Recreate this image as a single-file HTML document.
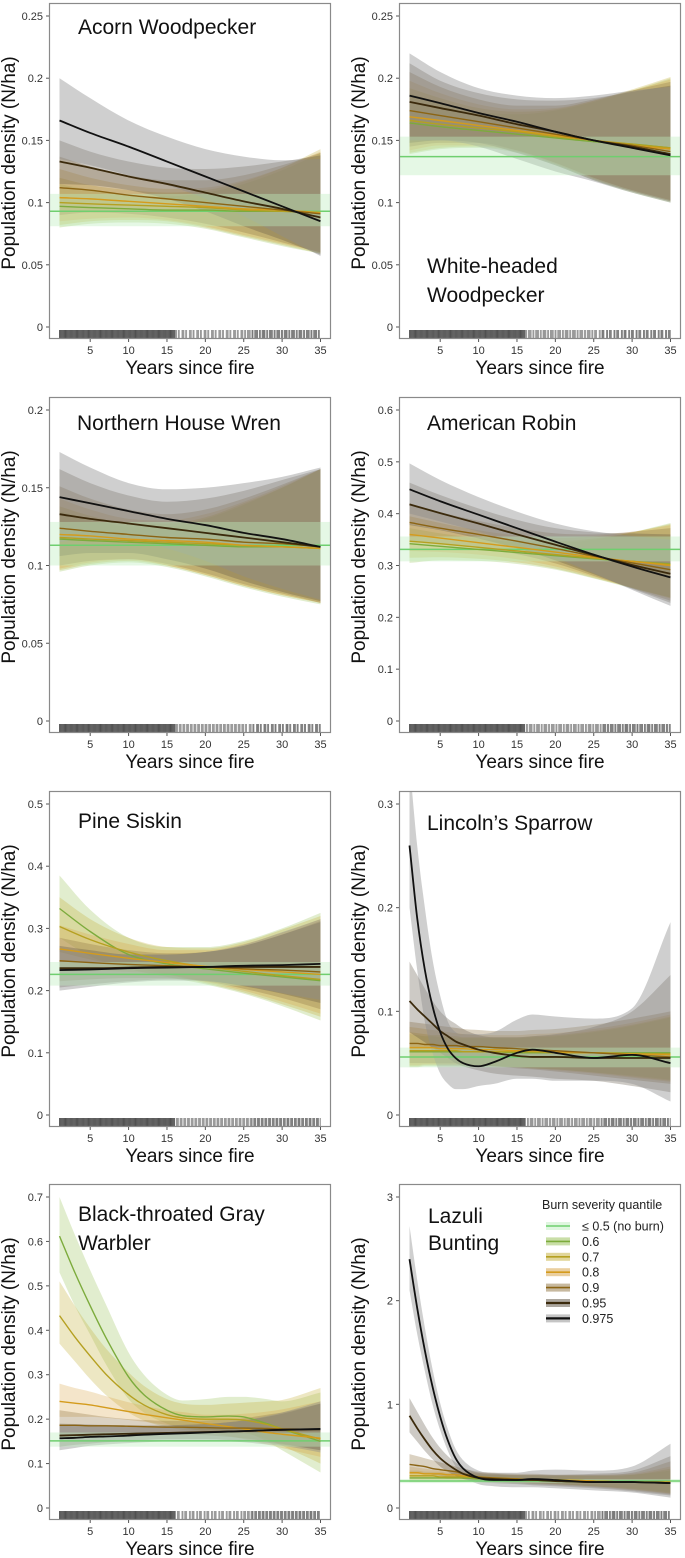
<!DOCTYPE html>
<html><head><meta charset="utf-8">
<style>
html,body{margin:0;padding:0;background:#fff;}
svg{display:block;font-family:"Liberation Sans",Arial,sans-serif;}
</style></head>
<body>
<svg id="fig" width="685" height="1558" viewBox="0 0 685 1558" xmlns="http://www.w3.org/2000/svg"></svg>
<script>
// ---------- DATA ----------
const levels = ['0.6','0.7','0.8','0.9','0.95','0.975'];
const legendLabels = ['\u2264 0.5 (no burn)','0.6','0.7','0.8','0.9','0.95','0.975'];
const xTicks = [5,10,15,20,25,30,35];

// Acorn Woodpecker
const acornYears=[1,5,10,15,20,25,30,35];
const acornNoBurn=[0.093,0.081,0.107];
const acornMid0975=[0.166,0.156,0.145,0.133,0.121,0.109,0.097,0.085];
const acornHi0975=[0.200,0.184,0.166,0.153,0.143,0.137,0.134,0.135];
const acornLo0975=[0.135,0.130,0.122,0.114,0.103,0.089,0.073,0.057];
const acornMid095=[0.133,0.128,0.121,0.115,0.108,0.101,0.095,0.088];
const acornHi095=[0.150,0.141,0.133,0.128,0.127,0.129,0.133,0.138];
const acornLo095=[0.115,0.114,0.110,0.103,0.093,0.081,0.070,0.058];
const acornMid09=[0.112,0.110,0.106,0.103,0.100,0.097,0.094,0.091];
const acornHi09=[0.137,0.129,0.122,0.118,0.118,0.122,0.130,0.140];
const acornLo09=[0.090,0.092,0.091,0.088,0.083,0.076,0.068,0.060];
const acornMid08=[0.104,0.103,0.101,0.099,0.097,0.095,0.094,0.092];
const acornHi08=[0.127,0.120,0.114,0.111,0.112,0.118,0.128,0.141];
const acornLo08=[0.085,0.087,0.088,0.086,0.081,0.074,0.067,0.060];
const acornMid07=[0.100,0.099,0.098,0.097,0.096,0.094,0.093,0.092];
const acornHi07=[0.120,0.114,0.110,0.108,0.110,0.117,0.128,0.143];
const acornLo07=[0.082,0.085,0.086,0.085,0.080,0.073,0.066,0.059];
const acornMid06=[0.097,0.096,0.095,0.094,0.094,0.093,0.093,0.092];
const acornHi06=[0.115,0.110,0.106,0.105,0.108,0.115,0.126,0.140];
const acornLo06=[0.080,0.083,0.084,0.083,0.079,0.072,0.065,0.059];

// White-headed Woodpecker
const whwoYears=[1,5,10,15,20,25,30,35];
const whwoNoBurn=[0.137,0.122,0.153];
const whwoMid0975=[0.186,0.180,0.172,0.165,0.157,0.150,0.144,0.138];
const whwoHi0975=[0.220,0.205,0.192,0.186,0.184,0.186,0.190,0.193];
const whwoLo0975=[0.150,0.150,0.145,0.135,0.125,0.117,0.108,0.100];
const whwoMid095=[0.181,0.176,0.170,0.163,0.157,0.150,0.145,0.139];
const whwoHi095=[0.212,0.198,0.188,0.183,0.182,0.184,0.189,0.194];
const whwoLo095=[0.148,0.150,0.148,0.140,0.130,0.118,0.109,0.101];
const whwoMid09=[0.174,0.170,0.165,0.160,0.155,0.150,0.146,0.141];
const whwoHi09=[0.205,0.193,0.183,0.178,0.178,0.183,0.190,0.197];
const whwoLo09=[0.145,0.148,0.148,0.142,0.132,0.120,0.110,0.102];
const whwoMid08=[0.169,0.166,0.162,0.158,0.154,0.150,0.146,0.143];
const whwoHi08=[0.198,0.188,0.179,0.175,0.176,0.182,0.190,0.199];
const whwoLo08=[0.142,0.146,0.146,0.142,0.132,0.120,0.110,0.102];
const whwoMid07=[0.166,0.163,0.160,0.157,0.153,0.150,0.147,0.144];
const whwoHi07=[0.192,0.184,0.176,0.173,0.175,0.182,0.191,0.201];
const whwoLo07=[0.140,0.144,0.145,0.141,0.131,0.119,0.109,0.101];
const whwoMid06=[0.164,0.161,0.158,0.155,0.152,0.149,0.147,0.144];
const whwoHi06=[0.188,0.180,0.173,0.171,0.174,0.181,0.190,0.200];
const whwoLo06=[0.139,0.143,0.144,0.140,0.130,0.118,0.108,0.100];

// Northern House Wren
const wrenYears=[1,5,10,15,20,25,30,35];
const wrenNoBurn=[0.113,0.100,0.128];
const wrenMid0975=[0.144,0.140,0.135,0.130,0.126,0.121,0.117,0.112];
const wrenHi0975=[0.173,0.163,0.153,0.149,0.150,0.153,0.157,0.163];
const wrenLo0975=[0.115,0.117,0.117,0.111,0.103,0.093,0.085,0.078];
const wrenMid095=[0.133,0.130,0.127,0.124,0.121,0.118,0.115,0.112];
const wrenHi095=[0.162,0.153,0.145,0.141,0.143,0.148,0.155,0.162];
const wrenLo095=[0.106,0.108,0.108,0.104,0.098,0.090,0.083,0.077];
const wrenMid09=[0.124,0.122,0.120,0.118,0.117,0.115,0.114,0.112];
const wrenHi09=[0.151,0.143,0.136,0.133,0.136,0.143,0.152,0.162];
const wrenLo09=[0.100,0.103,0.104,0.101,0.095,0.088,0.082,0.076];
const wrenMid08=[0.120,0.119,0.117,0.116,0.115,0.113,0.112,0.111];
const wrenHi08=[0.143,0.136,0.130,0.129,0.133,0.141,0.151,0.162];
const wrenLo08=[0.098,0.102,0.104,0.100,0.094,0.087,0.081,0.076];
const wrenMid07=[0.118,0.117,0.116,0.115,0.114,0.113,0.112,0.111];
const wrenHi07=[0.138,0.132,0.127,0.127,0.131,0.140,0.150,0.162];
const wrenLo07=[0.097,0.101,0.103,0.100,0.094,0.087,0.081,0.076];
const wrenMid06=[0.117,0.116,0.115,0.114,0.113,0.112,0.112,0.111];
const wrenHi06=[0.135,0.130,0.125,0.125,0.130,0.139,0.150,0.162];
const wrenLo06=[0.096,0.100,0.102,0.099,0.093,0.086,0.080,0.075];

// American Robin
const robinYears=[1,5,10,15,20,25,30,35];
const robinNoBurn=[0.331,0.308,0.356];
const robinMid0975=[0.447,0.424,0.398,0.372,0.346,0.321,0.298,0.277];
const robinHi0975=[0.497,0.465,0.432,0.404,0.381,0.366,0.357,0.350];
const robinLo0975=[0.400,0.385,0.365,0.342,0.315,0.285,0.253,0.222];
const robinMid095=[0.418,0.401,0.381,0.360,0.340,0.320,0.301,0.284];
const robinHi095=[0.460,0.436,0.410,0.388,0.372,0.364,0.362,0.360];
const robinLo095=[0.378,0.368,0.352,0.333,0.310,0.283,0.255,0.228];
const robinMid09=[0.383,0.372,0.360,0.347,0.333,0.318,0.305,0.292];
const robinHi09=[0.420,0.403,0.386,0.372,0.362,0.360,0.365,0.372];
const robinLo09=[0.348,0.343,0.334,0.322,0.304,0.280,0.256,0.232];
const robinMid08=[0.360,0.353,0.344,0.335,0.326,0.316,0.308,0.300];
const robinHi08=[0.395,0.382,0.368,0.358,0.353,0.356,0.365,0.378];
const robinLo08=[0.328,0.326,0.321,0.312,0.298,0.278,0.257,0.236];
const robinMid07=[0.347,0.342,0.335,0.328,0.321,0.314,0.308,0.302];
const robinHi07=[0.380,0.369,0.357,0.349,0.347,0.352,0.364,0.380];
const robinLo07=[0.315,0.316,0.313,0.306,0.294,0.276,0.257,0.238];
const robinMid06=[0.342,0.337,0.331,0.325,0.319,0.313,0.308,0.303];
const robinHi06=[0.372,0.362,0.352,0.345,0.344,0.350,0.364,0.382];
const robinLo06=[0.305,0.310,0.309,0.303,0.292,0.275,0.256,0.238];

// Pine Siskin
const siskinYears=[1,5,10,15,20,25,30,35];
const siskinNoBurn=[0.226,0.208,0.246];
const siskinMid0975=[0.233,0.234,0.236,0.237,0.238,0.240,0.241,0.243];
const siskinHi0975=[0.268,0.262,0.258,0.258,0.262,0.274,0.294,0.315];
const siskinLo0975=[0.200,0.206,0.213,0.216,0.215,0.208,0.196,0.185];
const siskinMid095=[0.236,0.236,0.237,0.238,0.238,0.238,0.238,0.238];
const siskinHi095=[0.272,0.265,0.258,0.258,0.262,0.272,0.290,0.310];
const siskinLo095=[0.205,0.210,0.215,0.218,0.216,0.207,0.195,0.180];
const siskinMid09=[0.248,0.245,0.242,0.240,0.238,0.235,0.233,0.230];
const siskinHi09=[0.285,0.275,0.265,0.260,0.262,0.272,0.290,0.312];
const siskinLo09=[0.215,0.218,0.220,0.220,0.215,0.203,0.188,0.170];
const siskinMid08=[0.267,0.260,0.252,0.245,0.239,0.234,0.230,0.226];
const siskinHi08=[0.305,0.290,0.275,0.265,0.265,0.275,0.293,0.315];
const siskinLo08=[0.232,0.232,0.230,0.226,0.214,0.200,0.182,0.163];
const siskinMid07=[0.303,0.282,0.262,0.248,0.238,0.231,0.224,0.218];
const siskinHi07=[0.350,0.315,0.285,0.270,0.268,0.278,0.298,0.320];
const siskinLo07=[0.262,0.250,0.238,0.226,0.212,0.197,0.178,0.158];
const siskinMid06=[0.332,0.295,0.258,0.243,0.235,0.228,0.222,0.216];
const siskinHi06=[0.385,0.330,0.285,0.270,0.270,0.280,0.300,0.325];
const siskinLo06=[0.285,0.255,0.235,0.222,0.210,0.195,0.175,0.152];

// Lincoln's Sparrow
const lispYears=[1,2,3,4,5,6,7,8,10,12,15,17,20,25,30,35];
const lispNoBurn=[0.056,0.046,0.065];
const lispMid0975=[0.26,0.19,0.14,0.105,0.08,0.064,0.055,0.05,0.047,0.051,0.06,0.063,0.06,0.055,0.058,0.05];
const lispHi0975=[0.34,0.26,0.20,0.15,0.115,0.09,0.08,0.078,0.078,0.08,0.092,0.097,0.095,0.093,0.103,0.186];
const lispLo0975=[0.20,0.14,0.09,0.06,0.04,0.03,0.025,0.025,0.028,0.03,0.035,0.035,0.033,0.033,0.03,0.013];
const lispMid095=[0.11,0.102,0.095,0.088,0.081,0.076,0.071,0.068,0.063,0.06,0.057,0.056,0.056,0.055,0.055,0.055];
const lispHi095=[0.148,0.135,0.122,0.11,0.1,0.093,0.088,0.083,0.077,0.075,0.075,0.076,0.078,0.085,0.1,0.135];
const lispLo095=[0.08,0.075,0.07,0.065,0.06,0.055,0.05,0.047,0.043,0.04,0.038,0.037,0.035,0.033,0.028,0.022];
const lispMid09=[0.069,0.069,0.068,0.068,0.067,0.067,0.067,0.066,0.066,0.065,0.064,0.063,0.062,0.060,0.058,0.056];
const lispHi09=[0.09,0.089,0.088,0.087,0.086,0.085,0.084,0.083,0.082,0.081,0.081,0.082,0.083,0.087,0.093,0.1];
const lispLo09=[0.05,0.05,0.05,0.05,0.05,0.05,0.05,0.049,0.048,0.047,0.045,0.044,0.042,0.038,0.034,0.03];
const lispMid08=[0.065,0.065,0.065,0.065,0.064,0.064,0.064,0.064,0.063,0.063,0.062,0.062,0.061,0.060,0.059,0.058];
const lispHi08=[0.085,0.084,0.083,0.082,0.081,0.08,0.079,0.078,0.077,0.077,0.077,0.078,0.079,0.083,0.089,0.097];
const lispLo08=[0.048,0.048,0.049,0.049,0.049,0.049,0.049,0.049,0.048,0.047,0.046,0.045,0.043,0.04,0.036,0.032];
const lispMid07=[0.062,0.062,0.062,0.062,0.062,0.062,0.062,0.061,0.061,0.061,0.061,0.061,0.060,0.060,0.059,0.059];
const lispHi07=[0.08,0.079,0.078,0.077,0.077,0.076,0.076,0.075,0.075,0.075,0.075,0.076,0.077,0.081,0.087,0.095];
const lispLo07=[0.047,0.047,0.048,0.048,0.048,0.048,0.048,0.048,0.048,0.047,0.046,0.045,0.044,0.041,0.037,0.033];
const lispMid06=[0.061,0.061,0.061,0.061,0.061,0.061,0.061,0.061,0.061,0.061,0.060,0.060,0.060,0.060,0.060,0.060];
const lispHi06=[0.078,0.077,0.076,0.076,0.075,0.075,0.074,0.074,0.074,0.074,0.074,0.075,0.076,0.08,0.086,0.094];
const lispLo06=[0.046,0.046,0.047,0.047,0.047,0.047,0.047,0.047,0.047,0.047,0.046,0.045,0.044,0.041,0.038,0.034];

// Black-throated Gray Warbler
const btgwYears=[1,3,5,7,10,12,15,17,20,23,25,28,30,35];
const btgwNoBurn=[0.151,0.138,0.170];
const btgwMid0975=[0.157,0.158,0.16,0.161,0.163,0.165,0.167,0.168,0.17,0.172,0.173,0.175,0.176,0.178];
const btgwHi0975=[0.185,0.184,0.184,0.184,0.184,0.184,0.185,0.186,0.188,0.193,0.197,0.207,0.215,0.24];
const btgwLo0975=[0.13,0.135,0.14,0.143,0.146,0.148,0.15,0.151,0.152,0.15,0.148,0.143,0.14,0.125];
const btgwMid095=[0.163,0.164,0.165,0.166,0.167,0.168,0.169,0.17,0.171,0.172,0.173,0.175,0.176,0.177];
const btgwHi095=[0.19,0.189,0.188,0.187,0.186,0.186,0.186,0.187,0.189,0.193,0.197,0.205,0.212,0.235];
const btgwLo095=[0.138,0.142,0.145,0.148,0.151,0.153,0.155,0.155,0.155,0.153,0.151,0.147,0.143,0.13];
const btgwMid09=[0.186,0.186,0.185,0.185,0.184,0.183,0.182,0.182,0.181,0.180,0.180,0.179,0.178,0.177];
const btgwHi09=[0.22,0.215,0.21,0.205,0.2,0.198,0.196,0.196,0.197,0.2,0.202,0.21,0.215,0.235];
const btgwLo09=[0.155,0.16,0.163,0.165,0.167,0.167,0.167,0.166,0.164,0.16,0.157,0.15,0.145,0.13];
const btgwMid08=[0.24,0.236,0.232,0.226,0.217,0.211,0.203,0.198,0.19,0.183,0.178,0.17,0.166,0.157];
const btgwHi08=[0.28,0.27,0.262,0.252,0.238,0.23,0.22,0.216,0.21,0.21,0.212,0.217,0.222,0.24];
const btgwLo08=[0.205,0.205,0.205,0.203,0.198,0.194,0.187,0.181,0.172,0.162,0.155,0.143,0.135,0.115];
const btgwMid07=[0.433,0.385,0.342,0.302,0.255,0.232,0.21,0.203,0.2,0.2,0.198,0.188,0.178,0.155];
const btgwHi07=[0.51,0.455,0.405,0.36,0.305,0.275,0.245,0.235,0.232,0.235,0.237,0.24,0.243,0.27];
const btgwLo07=[0.37,0.33,0.29,0.255,0.215,0.197,0.182,0.176,0.173,0.17,0.168,0.155,0.14,0.1];
const btgwMid06=[0.612,0.53,0.455,0.385,0.295,0.255,0.22,0.208,0.205,0.207,0.205,0.19,0.178,0.15];
const btgwHi06=[0.70,0.615,0.535,0.46,0.35,0.3,0.255,0.242,0.245,0.25,0.25,0.245,0.24,0.26];
const btgwLo06=[0.53,0.455,0.39,0.325,0.245,0.215,0.19,0.18,0.175,0.175,0.172,0.15,0.13,0.08];

// Lazuli Bunting
const labuYears=[1,2,3,4,5,6,7,8,10,12,15,17,20,25,30,35];
const labuNoBurn=[0.26,0.24,0.28];
const labuMid0975=[2.4,1.93,1.52,1.17,0.88,0.65,0.48,0.38,0.29,0.27,0.27,0.28,0.27,0.25,0.25,0.24];
const labuHi0975=[2.72,2.2,1.74,1.34,1.01,0.76,0.57,0.46,0.36,0.34,0.34,0.36,0.37,0.36,0.40,0.62];
const labuLo0975=[2.1,1.68,1.32,1.0,0.75,0.55,0.4,0.31,0.23,0.21,0.2,0.2,0.19,0.17,0.15,0.1];
const labuMid095=[0.89,0.77,0.66,0.56,0.48,0.42,0.37,0.33,0.29,0.28,0.27,0.27,0.26,0.25,0.25,0.24];
const labuHi095=[1.06,0.93,0.8,0.68,0.58,0.5,0.44,0.39,0.34,0.33,0.32,0.32,0.32,0.33,0.36,0.5];
const labuLo095=[0.73,0.64,0.55,0.47,0.4,0.35,0.31,0.28,0.25,0.24,0.23,0.22,0.21,0.19,0.16,0.12];
const labuMid09=[0.42,0.41,0.4,0.38,0.37,0.36,0.35,0.33,0.3,0.29,0.28,0.27,0.26,0.25,0.25,0.24];
const labuHi09=[0.52,0.5,0.48,0.46,0.44,0.42,0.4,0.38,0.35,0.34,0.33,0.33,0.32,0.32,0.34,0.45];
const labuLo09=[0.33,0.33,0.33,0.32,0.31,0.3,0.29,0.28,0.26,0.25,0.24,0.23,0.22,0.2,0.17,0.13];
const labuMid08=[0.34,0.34,0.33,0.33,0.33,0.32,0.32,0.31,0.3,0.29,0.28,0.27,0.27,0.26,0.25,0.25];
const labuHi08=[0.4,0.39,0.38,0.37,0.37,0.36,0.36,0.35,0.34,0.33,0.32,0.32,0.32,0.32,0.33,0.4];
const labuLo08=[0.29,0.29,0.29,0.29,0.29,0.28,0.28,0.28,0.27,0.26,0.25,0.24,0.23,0.21,0.18,0.14];
const labuMid07=[0.31,0.31,0.31,0.31,0.3,0.3,0.3,0.3,0.29,0.29,0.28,0.27,0.27,0.26,0.25,0.25];
const labuHi07=[0.36,0.36,0.35,0.35,0.35,0.34,0.34,0.34,0.33,0.32,0.32,0.32,0.31,0.31,0.32,0.38];
const labuLo07=[0.27,0.27,0.27,0.27,0.27,0.27,0.27,0.26,0.26,0.25,0.25,0.24,0.23,0.21,0.18,0.14];
const labuMid06=[0.29,0.29,0.29,0.29,0.29,0.29,0.29,0.29,0.28,0.28,0.28,0.27,0.27,0.26,0.25,0.25];
const labuHi06=[0.33,0.33,0.33,0.33,0.33,0.33,0.33,0.32,0.32,0.32,0.31,0.31,0.31,0.31,0.32,0.36];
const labuLo06=[0.25,0.25,0.25,0.25,0.25,0.25,0.25,0.25,0.25,0.25,0.24,0.24,0.23,0.21,0.19,0.15];

// tick label arrays
const ticksAcorn=['0','0.05','0.1','0.15','0.2','0.25'];
const ticksWren=['0','0.05','0.1','0.15','0.2'];
const ticksRobin=['0','0.1','0.2','0.3','0.4','0.5','0.6'];
const ticksSiskin=['0','0.1','0.2','0.3','0.4','0.5'];
const ticksLisp=['0','0.1','0.2','0.3'];
const ticksBtgw=['0','0.1','0.2','0.3','0.4','0.5','0.6','0.7'];
const ticksLabu=['0','1','2','3'];

// ---------- STYLE ----------
const lineColors=['#7cab3c','#b5a021','#d49b1c','#8b6414','#3b2a0c','#111111'];
const bandColors=['#94bd50','#c4ae38','#d6a040','#8f7440','#5a5040','#8c8c8c'];
const bandOpac=[0.28,0.3,0.28,0.32,0.3,0.42];
const nbLine='#6fcf6f', nbBand='#bfeebf';

const NS='http://www.w3.org/2000/svg';
const svg=document.getElementById('fig');
function mk(tag,attrs,parent){const e=document.createElementNS(NS,tag);for(const k in attrs)e.setAttribute(k,attrs[k]);(parent||svg).appendChild(e);return e;}

// monotone cubic path
function smoothPath(pts){
  const n=pts.length; if(n<2)return '';
  const d=[],m=[];
  for(let i=0;i<n-1;i++)d.push((pts[i+1][1]-pts[i][1])/(pts[i+1][0]-pts[i][0]));
  m[0]=d[0];m[n-1]=d[n-2];
  for(let i=1;i<n-1;i++){m[i]=(d[i-1]*d[i]<=0)?0:(d[i-1]+d[i])/2;}
  for(let i=0;i<n-1;i++){if(d[i]===0){m[i]=0;m[i+1]=0;continue;}const a=m[i]/d[i],b=m[i+1]/d[i],s=a*a+b*b;if(s>9){const t=3/Math.sqrt(s);m[i]=t*a*d[i];m[i+1]=t*b*d[i];}}
  let p='M'+pts[0][0].toFixed(2)+','+pts[0][1].toFixed(2);
  for(let i=0;i<n-1;i++){const h=(pts[i+1][0]-pts[i][0])/3;
    p+=' C'+(pts[i][0]+h).toFixed(2)+','+(pts[i][1]+m[i]*h).toFixed(2)+' '+(pts[i+1][0]-h).toFixed(2)+','+(pts[i+1][1]-m[i+1]*h).toFixed(2)+' '+pts[i+1][0].toFixed(2)+','+pts[i+1][1].toFixed(2);}
  return p;
}

const panels=[
 {id:'acorn',title:['Acorn Woodpecker'],tx:78,ty:[34],col:0,row:0,years:acornYears,nb:acornNoBurn,ticks:ticksAcorn,
  mid:[acornMid06,acornMid07,acornMid08,acornMid09,acornMid095,acornMid0975],hi:[acornHi06,acornHi07,acornHi08,acornHi09,acornHi095,acornHi0975],lo:[acornLo06,acornLo07,acornLo08,acornLo09,acornLo095,acornLo0975]},
 {id:'white-headed-woodpecker',title:['White-headed','Woodpecker'],tx:427,ty:[273,302],col:1,row:0,years:whwoYears,nb:whwoNoBurn,ticks:ticksAcorn,
  mid:[whwoMid06,whwoMid07,whwoMid08,whwoMid09,whwoMid095,whwoMid0975],hi:[whwoHi06,whwoHi07,whwoHi08,whwoHi09,whwoHi095,whwoHi0975],lo:[whwoLo06,whwoLo07,whwoLo08,whwoLo09,whwoLo095,whwoLo0975]},
 {id:'northern-house-wren',title:['Northern House Wren'],tx:77,ty:[430],col:0,row:1,years:wrenYears,nb:wrenNoBurn,ticks:ticksWren,
  mid:[wrenMid06,wrenMid07,wrenMid08,wrenMid09,wrenMid095,wrenMid0975],hi:[wrenHi06,wrenHi07,wrenHi08,wrenHi09,wrenHi095,wrenHi0975],lo:[wrenLo06,wrenLo07,wrenLo08,wrenLo09,wrenLo095,wrenLo0975]},
 {id:'american-robin',title:['American Robin'],tx:427,ty:[430],col:1,row:1,years:robinYears,nb:robinNoBurn,ticks:ticksRobin,
  mid:[robinMid06,robinMid07,robinMid08,robinMid09,robinMid095,robinMid0975],hi:[robinHi06,robinHi07,robinHi08,robinHi09,robinHi095,robinHi0975],lo:[robinLo06,robinLo07,robinLo08,robinLo09,robinLo095,robinLo0975]},
 {id:'pine-siskin',title:['Pine Siskin'],tx:78,ty:[828],col:0,row:2,years:siskinYears,nb:siskinNoBurn,ticks:ticksSiskin,
  mid:[siskinMid06,siskinMid07,siskinMid08,siskinMid09,siskinMid095,siskinMid0975],hi:[siskinHi06,siskinHi07,siskinHi08,siskinHi09,siskinHi095,siskinHi0975],lo:[siskinLo06,siskinLo07,siskinLo08,siskinLo09,siskinLo095,siskinLo0975]},
 {id:'lincolns-sparrow',title:['Lincoln\u2019s Sparrow'],tx:427,ty:[830],col:1,row:2,years:lispYears,nb:lispNoBurn,ticks:ticksLisp,
  mid:[lispMid06,lispMid07,lispMid08,lispMid09,lispMid095,lispMid0975],hi:[lispHi06,lispHi07,lispHi08,lispHi09,lispHi095,lispHi0975],lo:[lispLo06,lispLo07,lispLo08,lispLo09,lispLo095,lispLo0975]},
 {id:'black-throated-gray-warbler',title:['Black-throated Gray','Warbler'],tx:78,ty:[1221,1250],col:0,row:3,years:btgwYears,nb:btgwNoBurn,ticks:ticksBtgw,
  mid:[btgwMid06,btgwMid07,btgwMid08,btgwMid09,btgwMid095,btgwMid0975],hi:[btgwHi06,btgwHi07,btgwHi08,btgwHi09,btgwHi095,btgwHi0975],lo:[btgwLo06,btgwLo07,btgwLo08,btgwLo09,btgwLo095,btgwLo0975]},
 {id:'lazuli-bunting',title:['Lazuli','Bunting'],tx:428,ty:[1223,1250],col:1,row:3,years:labuYears,nb:labuNoBurn,ticks:ticksLabu,
  mid:[labuMid06,labuMid07,labuMid08,labuMid09,labuMid095,labuMid0975],hi:[labuHi06,labuHi07,labuHi08,labuHi09,labuHi095,labuHi0975],lo:[labuLo06,labuLo07,labuLo08,labuLo09,labuLo095,labuLo0975],legend:true}
];

const colLeft=[49,399], boxW=282, boxH=336, rowTop=[3,397,791,1184];

panels.forEach((P,pi)=>{
  const L=colLeft[P.col], T=rowTop[P.row], R=L+boxW, B=T+boxH;
  const ymax=parseFloat(P.ticks[P.ticks.length-1]);
  const X=v=>L+10.5+(v-1)*(boxW-21)/34;
  const Y=v=>T+324-v/ymax*311;
  const g=mk('g',{});
  
  
  const cp=mk('clipPath',{id:'clip'+pi},g);
  mk('rect',{x:L,y:T,width:boxW,height:boxH},cp);
  const plot=mk('g',{'clip-path':'url(#clip'+pi+')'},g);
  for(let s=0;s<6;s++){
    const up=P.years.map((yr,i)=>[X(yr),Y(P.hi[s][i])]);
    const dn=P.years.map((yr,i)=>[X(yr),Y(P.lo[s][i])]).reverse();
    const d=smoothPath(up)+' L'+smoothPath(dn).slice(1)+' Z';
    const b=mk('path',{d:d,fill:bandColors[s],'fill-opacity':bandOpac[s],stroke:'none'},plot);
    
    
  }
  const nbb=mk('rect',{x:L,y:Y(P.nb[2]),width:boxW,height:Y(P.nb[1])-Y(P.nb[2]),fill:nbBand,'fill-opacity':0.4},plot);
  
  
  const nbl=mk('line',{x1:L,x2:R,y1:Y(P.nb[0]),y2:Y(P.nb[0]),stroke:nbLine,'stroke-width':1.5},plot);
  
  
  for(let s=0;s<6;s++){
    const pts=P.years.map((yr,i)=>[X(yr),Y(P.mid[s][i])]);
    const ln=mk('path',{d:smoothPath(pts),fill:'none',stroke:lineColors[s],'stroke-width':s>=4?1.8:1.4},plot);
    
    
  }
  // rug
  const rug=mk('g',{},g);
  
  
  for(let yr=1;yr<=35.01;yr+=0.12){
    const k=Math.floor(yr*7.3+pi*3)%7;
    if(yr>16 && (k===0||k===3)) continue;
    const op=yr<16?0.9:(yr<26?0.55:0.7);
    mk('line',{x1:X(yr),x2:X(yr),y1:B-9,y2:B-1,stroke:'#3a3a3a','stroke-width':0.9,'stroke-opacity':op},rug);
  }
  const box=mk('rect',{x:L+0.5,y:T+0.5,width:boxW-1,height:boxH-1,fill:'none',stroke:'#8a8a8a','stroke-width':1.2},g);
  
  
  P.ticks.forEach(t=>{
    const v=parseFloat(t), yy=Y(v);
    mk('line',{x1:L-3,x2:L,y1:yy,y2:yy,stroke:'#555','stroke-width':1},g);
    const tl=mk('text',{x:L-6,y:yy+4,'text-anchor':'end','font-size':11,fill:'#333'},g);
    tl.textContent=t;
    
    
  });
  xTicks.forEach(t=>{
    const xx=X(t);
    mk('line',{x1:xx,x2:xx,y1:B,y2:B+3,stroke:'#555','stroke-width':1},g);
    const tl=mk('text',{x:xx,y:B+15,'text-anchor':'middle','font-size':11,fill:'#333'},g);
    tl.textContent=t;
    
    
  });
  const xl=mk('text',{x:(L+R)/2,y:B+35,'text-anchor':'middle','font-size':19,fill:'#111'},g);
  xl.textContent='Years since fire';
  
  
  const yx=L-34, yc=(T+B)/2-8;
  const yl=mk('text',{x:yx,y:yc,'text-anchor':'middle','font-size':19,fill:'#111',transform:'rotate(-90 '+yx+' '+yc+')'},g);
  yl.textContent='Population density (N/ha)';
  
  
  P.title.forEach((line,i)=>{
    const tt=mk('text',{x:P.tx,y:P.ty[i],'font-size':21,fill:'#111'},g);
    tt.textContent=line;
    
    
  });
  if(P.legend){
    const lg=mk('g',{},g);
    
    
    const lt=mk('text',{x:542,y:1209,'font-size':12.5,fill:'#222'},lg);
    lt.textContent='Burn severity quantile';
    
    
    const sw=[nbLine].concat(lineColors), sb=[nbBand].concat(bandColors);
    legendLabels.forEach((lab,i)=>{
      const cy=1226+i*15.4;
      const e=mk('g',{},lg);
      
      
      mk('rect',{x:546,y:cy-4,width:24,height:8,fill:sb[i],'fill-opacity':0.5},e);
      mk('line',{x1:546,x2:570,y1:cy,y2:cy,stroke:sw[i],'stroke-width':i>=5?2.2:1.6},e);
      const tx=mk('text',{x:582,y:cy+4.5,'font-size':12.5,fill:'#222'},e);
      tx.textContent=lab;
    });
  }
});
</script>
</body></html>
